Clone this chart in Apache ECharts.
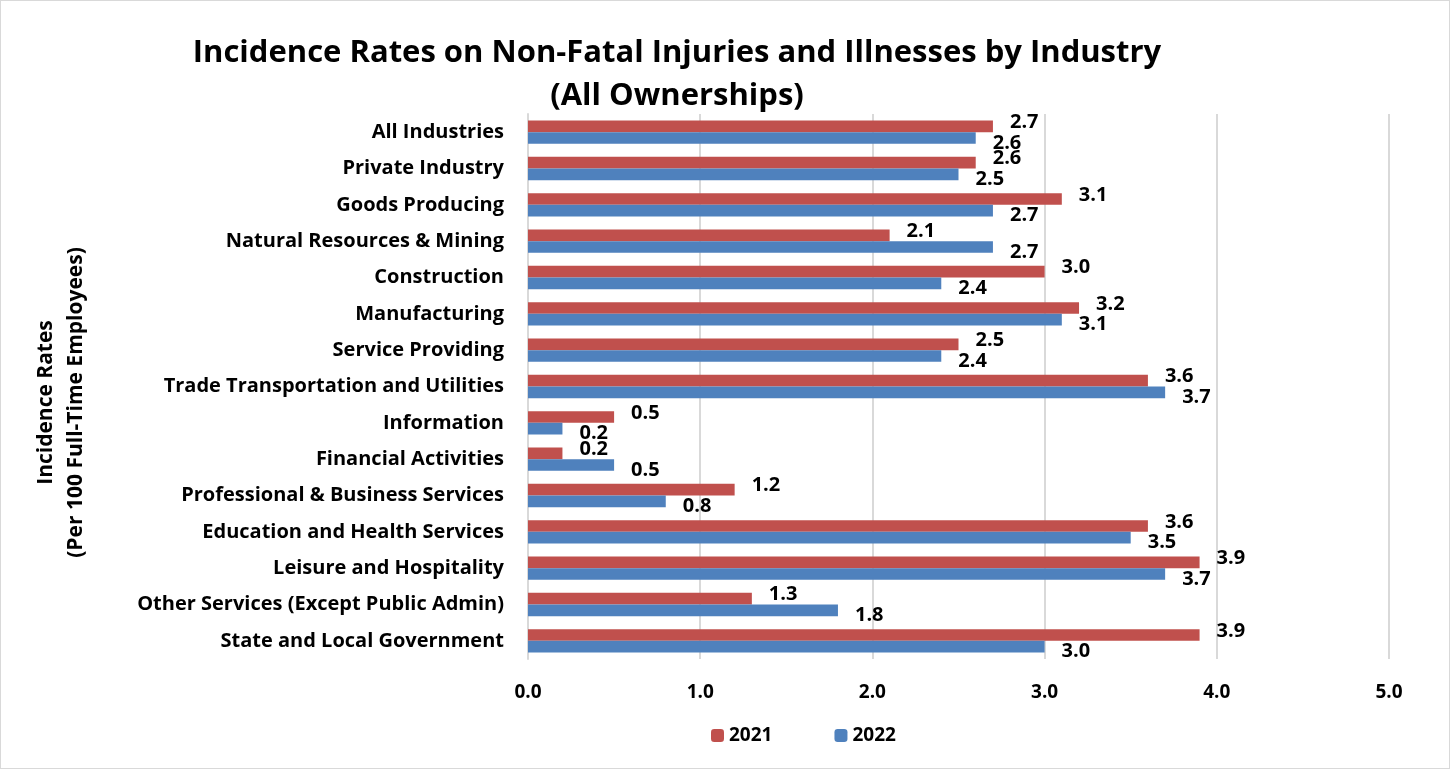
<!DOCTYPE html>
<html>
<head>
<meta charset="utf-8">
<script src="https://cdn.jsdelivr.net/npm/echarts@6/dist/echarts.min.js"></script>
<style>
  html, body { margin: 0; padding: 0; background: #fff; }
  #chart { width: 1448px; height: 767px; border: 1px solid #d9d9d9; }
</style>
</head>
<body>
<div id="chart"></div>
<script>
// categories, top to bottom
const industries = [
  'All Industries',
  'Private Industry',
  'Goods Producing',
  'Natural Resources & Mining',
  'Construction',
  'Manufacturing',
  'Service Providing',
  'Trade Transportation and Utilities',
  'Information',
  'Financial Activities',
  'Professional & Business Services',
  'Education and Health Services',
  'Leisure and Hospitality',
  'Other Services (Except Public Admin)',
  'State and Local Government'
];
const rates2021 = [2.7, 2.6, 3.1, 2.1, 3.0, 3.2, 2.5, 3.6, 0.5, 0.2, 1.2, 3.6, 3.9, 1.3, 3.9];
const rates2022 = [2.6, 2.5, 2.7, 2.7, 2.4, 3.1, 2.4, 3.7, 0.2, 0.5, 0.8, 3.5, 3.7, 1.8, 3.0];

const FONT = 'Open Sans';

const chart = echarts.init(document.getElementById('chart'));

const labelStyle = (dy) => ({
  show: true,
  position: 'right',
  distance: 17,
  offset: [0, dy],
  color: '#000',
  fontFamily: FONT,
  fontWeight: 'bold',
  fontSize: 20,
  formatter: (p) => p.value.toFixed(1)
});

const option = {
  animation: false,
  textStyle: { fontFamily: FONT },
  title: {
    text: 'Incidence Rates on Non-Fatal Injuries and Illnesses by Industry\n(All Ownerships)',
    left: 671,
    top: 26,
    textAlign: 'center',
    textStyle: {
      fontFamily: FONT,
      fontWeight: 'bold',
      fontSize: 31,
      lineHeight: 43,
      color: '#000'
    }
  },
  legend: {
    data: ['2021', '2022'],
    left: 705,
    top: 720,
    itemWidth: 13,
    itemHeight: 13,
    itemGap: 62,
    textStyle: { fontFamily: FONT, fontWeight: 'bold', fontSize: 19, color: '#000' }
  },
  grid: {
    left: 527,
    right: 60,
    top: 113,
    height: 545,
    containLabel: false
  },
  xAxis: {
    type: 'value',
    min: 0,
    max: 5,
    interval: 1,
    axisLine: { show: false },
    axisTick: { show: false },
    splitLine: { lineStyle: { color: '#d9d9d9', width: 2 } },
    axisLabel: {
      margin: 24,
      color: '#000',
      fontFamily: FONT,
      fontWeight: 'bold',
      fontSize: 19,
      formatter: (v) => v.toFixed(1)
    }
  },
  yAxis: {
    type: 'category',
    inverse: true,
    data: industries,
    name: 'Incidence Rates\n(Per 100 Full-Time Employees)',
    nameLocation: 'middle',
    nameRotate: 90,
    nameGap: 437,
    nameTextStyle: {
      fontFamily: FONT,
      fontWeight: 'bold',
      fontSize: 21,
      lineHeight: 30,
      color: '#000',
      padding: [0, 32, 0, 0]
    },
    axisLine: { lineStyle: { color: '#d9d9d9', width: 2 } },
    axisTick: { length: 5, lineStyle: { color: '#d9d9d9', width: 2 } },
    axisLabel: {
      margin: 24,
      color: '#000',
      fontFamily: FONT,
      fontWeight: 'bold',
      fontSize: 20
    }
  },
  series: [
    {
      name: '2021',
      type: 'bar',
      data: rates2021,
      barGap: '0%',
      barCategoryGap: '36%',
      itemStyle: { color: '#C0504D' },
      label: labelStyle(-4)
    },
    {
      name: '2022',
      type: 'bar',
      data: rates2022,
      barGap: '0%',
      barCategoryGap: '36%',
      itemStyle: { color: '#4F81BD' },
      label: labelStyle(5)
    }
  ]
};

chart.setOption(option);
</script>
</body>
</html>
